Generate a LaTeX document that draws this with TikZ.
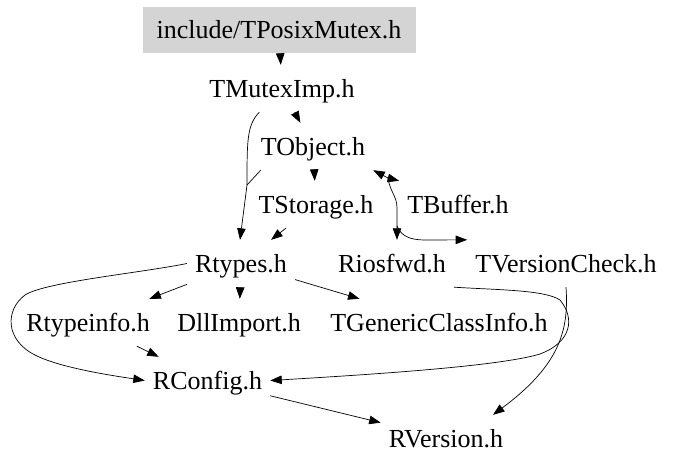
\documentclass[tikz,border=0pt]{standalone}
\usepackage{fontspec}
\setmainfont{Liberation Serif}
\usetikzlibrary{arrows.meta}
\begin{document}
\begin{tikzpicture}[x=1pt,y=-1pt,
  file/.style={rectangle,inner xsep=8pt,inner ysep=0pt,text height=32pt,text depth=15pt,anchor=base,font=\fontsize{26}{30}\selectfont},
  rootfile/.style={rectangle,fill=black!17,inner sep=0pt,minimum width=273pt,minimum height=46pt,font=\fontsize{26}{30}\selectfont},
  edge/.style={line width=0.7pt,-{Triangle[length=11.5pt,width=8.5pt]}},
  plain/.style={line width=0.7pt}]
\useasboundingbox (0,0) rectangle (675,469);
\node[rootfile] (pm) at (279,30) {\raisebox{-1pt}{include/TPosixMutex.h}};
\node[file] (tmi) at (282,97) {TMutexImp.h};
\node[file] (tob) at (313,155) {TObject.h};
\node[file] (tst) at (316,213) {TStorage.h};
\node[file] (tbf) at (458,213) {TBuffer.h};
\node[file] (rt)  at (241,272) {Rtypes.h};
\node[file] (ios) at (392,272) {Riosfwd.h};
\node[file] (tvc) at (566,272) {TVersionCheck.h};
\node[file] (rti) at (88,331) {Rtypeinfo.h};
\node[file] (dll) at (239,331) {DllImport.h};
\node[file] (gci) at (439,331) {TGenericClassInfo.h};
\node[file] (rcf) at (207.5,389) {RConfig.h};
\node[file] (rvs) at (446,447) {RVersion.h};
\coordinate (j1) at (388,178);
\coordinate (j2) at (397,226);
\coordinate (j3) at (247,185);

\draw[edge] (pm) -- (tmi);
\draw[edge] (tmi) -- (tob);
\draw[plain] (tmi) .. controls (247,125) and (247,140) .. (j3);
\draw[edge] (j3) -- ([xshift=-1pt]rt.north);
\draw[plain] ([xshift=8pt]tob.south west) -- (j3);
\draw[edge] (tob) -- (tst);
\draw[edge] (tst) -- (rt);
\draw[edge] (j1) -- (tob.south east);
\draw[edge] (j1) -- (tbf.north west);
\draw[edge] (j1) .. controls (390,192) and (397,196) .. (397,208) -- ([xshift=5pt]ios.north);
\draw[edge] (j2) .. controls (401,236) and (410,240) .. (425,240) -- (tvc.north west);
\draw[edge] (rt) -- (rti);
\draw[edge] (rt) -- (dll);
\draw[edge] (rt) -- (gci);
\draw[edge] (rt.west) .. controls (140,273) and (45,282) .. (25,295)
  .. controls (5,310) and (5,340) .. (35,355)
  .. controls (60,368) and (115,376) .. (rcf.west);
\draw[edge] (rti) -- (rcf);
\draw[edge] (ios.south east) .. controls (500,290) and (545,290) .. (560,300)
  .. controls (575,318) and (572,342) .. (540,354)
  .. controls (500,366) and (380,374) .. (rcf.east);
\draw[edge] (tvc.south) .. controls (569,330) and (560,365) .. ([xshift=47pt]rvs.north);
\draw[edge] (rcf) -- (rvs);
\end{tikzpicture}
\end{document}
